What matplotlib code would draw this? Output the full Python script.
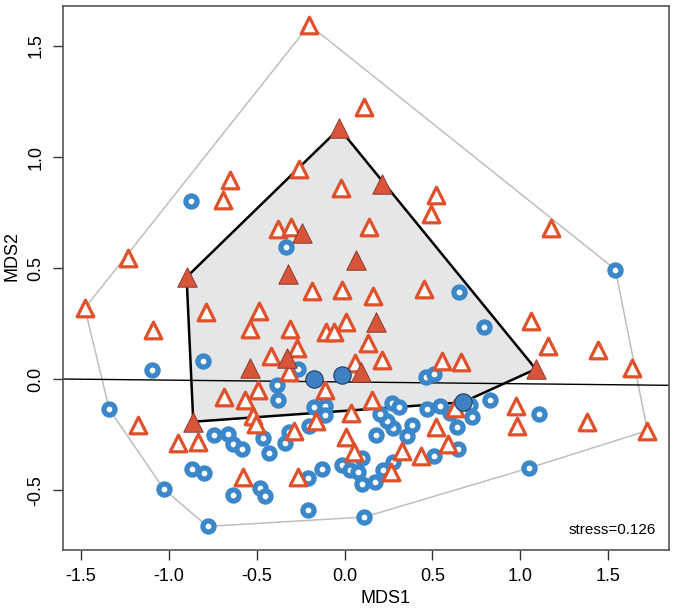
import numpy as np
import matplotlib
matplotlib.use("Agg")
import matplotlib.pyplot as plt
from matplotlib import font_manager

# open triangles
tri_x = [-0.201, 0.110, -0.258, -0.020, -0.652, -0.690, -1.231, -0.377, -0.307, 0.139,
         -0.187, -0.017, 0.520, 0.490, 1.175, 0.163, 0.454, 1.061, 1.156, 1.441,
         1.634, 0.135, 0.211, 0.553, 0.662, 0.154, 0.628, 0.977, 0.980, 1.378,
         1.723, 0.520, 0.587, 0.435, 0.325, 0.262, -1.478, -1.089, -0.789, -0.485,
         -0.541, -0.311, -0.107, -0.062, 0.007, -0.417, -0.273, -0.315, 0.059, -1.174,
         -0.688, -0.565, -0.491, -0.523, -0.504, -0.112, -0.163, 0.038, -0.288, -0.947,
         -0.833, 0.008, 0.051, -0.577, -0.264]
tri_y = [1.595, 1.224, 0.945, 0.860, 0.897, 0.807, 0.547, 0.675, 0.687, 0.685,
         0.397, 0.402, 0.829, 0.743, 0.682, 0.373, 0.407, 0.264, 0.150, 0.132,
         0.050, 0.163, 0.085, 0.082, 0.079, -0.093, -0.129, -0.122, -0.209, -0.194,
         -0.231, -0.215, -0.293, -0.345, -0.323, -0.417, 0.320, 0.222, 0.304, 0.309,
         0.227, 0.227, 0.214, 0.214, 0.259, 0.107, 0.140, 0.034, 0.073, -0.206,
         -0.078, -0.092, -0.050, -0.165, -0.203, -0.048, -0.187, -0.152, -0.234, -0.288,
         -0.282, -0.262, -0.326, -0.441, -0.438]

# filled triangles
ftri_x = [-0.030, 0.211, -0.244, -0.324, 0.063, -0.899, 0.179, -0.538, -0.325, 0.094, 1.088, -0.861]
ftri_y = [1.129, 0.878, 0.657, 0.476, 0.537, 0.460, 0.258, 0.050, 0.098, 0.033, 0.046, -0.191]

# open circles
circ_x = [-0.874, -0.334, 1.541, 0.651, 0.793, -1.094, -0.806, -0.265, 0.462, 0.507,
          -1.339, -0.385, -0.377, -0.176, -0.114, -0.112, -0.204, -0.319, -0.339, -0.742,
          -0.666, -0.633, -0.586, -0.466, -0.429, -0.870, -0.800, -0.481, -0.453, -0.637,
          -0.207, 0.113, -1.028, -0.780, -0.207, -0.130, -0.017, 0.031, 0.078, 0.099,
          0.099, 0.173, 0.219, 0.277, 0.509, 0.645, 0.353, 0.179, 0.382, 0.277,
          0.241, 0.201, 0.638, 0.723, 0.268, 0.311, 0.467, 0.543, 0.600, 0.714,
          0.828, 1.108, 1.051]
circ_y = [0.802, 0.594, 0.494, 0.393, 0.234, 0.042, 0.082, 0.047, 0.009, 0.025,
          -0.135, -0.026, -0.095, -0.127, -0.119, -0.161, -0.210, -0.239, -0.287, -0.249,
          -0.245, -0.290, -0.312, -0.266, -0.333, -0.404, -0.423, -0.489, -0.527, -0.522,
          -0.590, -0.620, -0.495, -0.662, -0.446, -0.402, -0.386, -0.408, -0.416, -0.471,
          -0.354, -0.461, -0.410, -0.371, -0.345, -0.314, -0.257, -0.251, -0.207, -0.221,
          -0.188, -0.158, -0.213, -0.171, -0.108, -0.125, -0.135, -0.122, -0.152, -0.118,
          -0.095, -0.155, -0.399]

# filled circles
fcirc_x = [-0.174, -0.017, 0.672]
fcirc_y = [0.000, 0.019, -0.104]

stress = 0.126
line_intercept = -0.012
line_slope = -0.0082


def convex_hull(xs, ys):
    pts = sorted(set(zip(xs, ys)))

    def cross(o, a, b):
        return (a[0] - o[0]) * (b[1] - o[1]) - (a[1] - o[1]) * (b[0] - o[0])

    lower, upper = [], []
    for p in pts:
        while len(lower) >= 2 and cross(lower[-2], lower[-1], p) <= 0:
            lower.pop()
        lower.append(p)
    for p in reversed(pts):
        while len(upper) >= 2 and cross(upper[-2], upper[-1], p) <= 0:
            upper.pop()
        upper.append(p)
    return np.array(lower[:-1] + upper[:-1])


names = {f.name for f in font_manager.fontManager.ttflist}
tick_font = 'Liberation Sans Narrow' if 'Liberation Sans Narrow' in names else 'Liberation Sans'
plt.rcParams['font.family'] = [tick_font, 'DejaVu Sans']

fig = plt.figure(figsize=(6.75, 6.09), dpi=100)
ax = fig.add_axes([62.7 / 675, 59.3 / 609, 606.3 / 675, 543.7 / 609])

# outer hull of the open symbols
outer = convex_hull(tri_x + circ_x, tri_y + circ_y)
outer = np.vstack([outer, outer[:1]])
ax.plot(outer[:, 0], outer[:, 1], color='#BEBEBE', lw=1.1, zorder=1)

# inner hull of the filled symbols
inner = convex_hull(ftri_x + fcirc_x, ftri_y + fcirc_y)
ax.fill(inner[:, 0], inner[:, 1], facecolor='#E5E6E8', edgecolor='black', lw=1.8, zorder=1.5)

ax.axline((0, line_intercept), slope=line_slope, color='black', lw=1.0, zorder=2)

ax.scatter(circ_x, circ_y, s=8 ** 2, marker='o', facecolor='white',
           edgecolor='#3B87C9', linewidths=3.8, zorder=3)
ax.scatter(tri_x, tri_y, s=12 ** 2, marker='^', facecolor='white',
           edgecolor='#E0502B', linewidths=2.3, zorder=4)
ax.scatter(ftri_x, ftri_y, s=14 ** 2, marker='^', facecolor='#D9553A',
           edgecolor='#8C3A2B', linewidths=0.7, zorder=5)
ax.scatter(fcirc_x, fcirc_y, s=12.5 ** 2, marker='o', facecolor='#3F80C2',
           edgecolor='#1E3D63', linewidths=0.8, zorder=6)

ax.set_xlim(-1.604, 1.846)
ax.set_ylim(-0.767, 1.680)
ax.set_xticks([-1.5, -1.0, -0.5, 0.0, 0.5, 1.0, 1.5])
ax.set_yticks([-0.5, 0.0, 0.5, 1.0, 1.5])
ax.set_xticklabels(['-1.5', '-1.0', '-0.5', '0.0', '0.5', '1.0', '1.5'])
ax.set_yticklabels(['-0.5', '0.0', '0.5', '1.0', '1.5'], rotation=90, va='center')
ax.tick_params(length=7, width=1, color='#333333', labelsize=13, pad=6)

for s in ax.spines.values():
    s.set_color('#555555')
    s.set_linewidth(1.2)

ax.set_xlabel('MDS1', fontsize=13)
ax.xaxis.label.set_va('center')
ax.xaxis.set_label_coords(0.533, -0.089)
ax.set_ylabel('MDS2', fontsize=13)
ax.yaxis.label.set_va('center')
ax.yaxis.set_label_coords(-0.084, 0.540)

ax.text(0.979, 0.036, f'stress={stress}', transform=ax.transAxes,
        ha='right', va='center', fontsize=11, family='Liberation Sans')

fig.savefig('out.png', dpi=100)
